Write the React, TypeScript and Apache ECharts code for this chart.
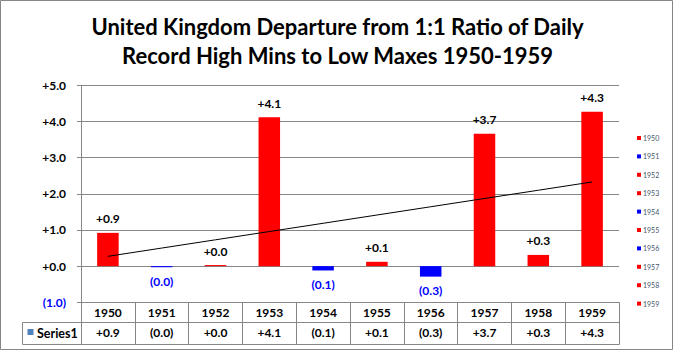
import React, { useEffect, useRef } from "react";
import * as echarts from "echarts";

const years = ["1950", "1951", "1952", "1953", "1954", "1955", "1956", "1957", "1958", "1959"];
const values = [0.92, -0.03, 0.03, 4.12, -0.12, 0.12, -0.29, 3.66, 0.31, 4.27];
const yMin = -1;
const yMax = 5;
const yInterval = 1;
const seriesName = "Series1";
const titleText = "United Kingdom Departure from 1:1 Ratio of Daily\nRecord High Mins to Low Maxes 1950-1959";

const POS = "#ff0000";
const NEG = "#0000ff";
const GRID = "#868686";
const FONT = "Lato, 'Noto Sans', sans-serif";

function fmt(v: number): string {
  return v >= 0 ? "+" + v.toFixed(1) : "(" + Math.abs(v).toFixed(1) + ")";
}

function trend(vals: number[]): number[] {
  const n = vals.length;
  const mx = (n - 1) / 2;
  const my = vals.reduce((a, b) => a + b, 0) / n;
  let sxy = 0;
  let sxx = 0;
  vals.forEach((v, i) => {
    sxy += (i - mx) * (v - my);
    sxx += (i - mx) * (i - mx);
  });
  const slope = sxy / sxx;
  const icpt = my - slope * mx;
  return vals.map((_, i) => icpt + slope * i);
}

export default function App() {
  const ref = useRef<HTMLDivElement>(null);
  useEffect(() => {
    if (!ref.current) return;
    const chart = echarts.init(ref.current, undefined, { renderer: "svg" });
    const colorOf = (v: number) => (v >= 0 ? POS : NEG);
    const option: any = {
      animation: false,
      backgroundColor: "#ffffff",
      textStyle: { fontFamily: FONT },
      title: {
        text: titleText,
        left: "center",
        top: 7,
        textStyle: { fontSize: 22, fontWeight: "bold", color: "#000", lineHeight: 29, fontFamily: FONT },
      },
      legend: {
        orient: "vertical",
        left: 637,
        top: 134,
        padding: 0,
        icon: "rect",
        itemWidth: 4,
        itemHeight: 4,
        itemGap: 10.4,
        textStyle: { fontSize: 7, lineHeight: 8, color: "#44546a", padding: [0, 0, 0, -3], fontFamily: FONT },
        data: years.map((y, i) => ({ name: y, itemStyle: { color: colorOf(values[i]) } })),
      },
      grid: { left: 81, right: 56, top: 85.3, bottom: 48.7, containLabel: false, outerBoundsMode: "none" },
      xAxis: [
        {
          type: "category",
          data: years,
          position: "bottom",
          axisLine: { onZero: false, lineStyle: { color: GRID, width: 1 } },
          axisTick: { show: true, alignWithLabel: false, length: 42, lineStyle: { color: GRID } },
          axisLabel: { margin: 4, fontSize: 12, fontWeight: "bold", color: "#000", fontFamily: FONT, interval: 0 },
        },
        {
          type: "category",
          data: years,
          position: "bottom",
          offset: 20,
          axisLine: { onZero: false, lineStyle: { color: GRID, width: 1 } },
          axisTick: { show: false },
          axisLabel: {
            margin: 4,
            fontSize: 12,
            fontWeight: "bold",
            color: "#000",
            fontFamily: FONT,
            interval: 0,
            formatter: (_: string, idx: number) => fmt(values[idx]),
          },
        },
      ],
      yAxis: {
        type: "value",
        min: yMin,
        max: yMax,
        interval: yInterval,
        axisLine: { show: true, lineStyle: { color: GRID } },
        axisTick: { show: true, length: 4, lineStyle: { color: GRID } },
        splitLine: { show: true, lineStyle: { color: GRID, width: 1 } },
        axisLabel: {
          margin: 15,
          fontSize: 12,
          fontWeight: "bold",
          fontFamily: FONT,
          formatter: (v: number) => fmt(v),
          color: (v: any) => (Number(v) < 0 ? NEG : "#000"),
        },
      },
      series: [
        {
          name: seriesName,
          type: "bar",
          xAxisIndex: 0,
          barWidth: "40%",
          data: values.map((v) => ({
            value: v,
            itemStyle: { color: colorOf(v) },
            label: {
              show: true,
              position: v >= 0 ? "top" : "bottom",
              distance: 8,
              formatter: () => fmt(v),
              color: v >= 0 ? "#000" : NEG,
              fontSize: 12,
              fontWeight: "bold",
              fontFamily: FONT,
            },
          })),
        },
        {
          name: "trend",
          type: "line",
          xAxisIndex: 0,
          data: trend(values),
          symbol: "none",
          lineStyle: { color: "#000", width: 1 },
          z: 5,
          silent: true,
        },
        ...years.map((y, i) => ({
          name: y,
          type: "line",
          data: [],
          itemStyle: { color: colorOf(values[i]) },
        })),
      ],
      graphic: [
        {
          type: "rect",
          shape: { x: 0.5, y: 0.5, width: 672, height: 349 },
          style: { fill: "none", stroke: GRID, lineWidth: 1 },
          silent: true,
        },
        { type: "line", shape: { x1: 22.5, y1: 322.5, x2: 81, y2: 322.5 }, style: { stroke: GRID, lineWidth: 1 } },
        { type: "line", shape: { x1: 22.5, y1: 344.5, x2: 619.5, y2: 344.5 }, style: { stroke: GRID, lineWidth: 1 } },
        { type: "line", shape: { x1: 22.5, y1: 322.5, x2: 22.5, y2: 344.5 }, style: { stroke: GRID, lineWidth: 1 } },
        { type: "rect", shape: { x: 27.5, y: 329, width: 6, height: 6 }, style: { fill: "#4f81bd" } },
        {
          type: "text",
          x: 37,
          y: 333.5,
          style: {
            text: seriesName,
            fontSize: 12.5,
            fontWeight: "bold",
            fontFamily: FONT,
            fill: "#000",
            verticalAlign: "middle",
          },
        },
      ],
    };
    chart.setOption(option);
    return () => chart.dispose();
  }, []);
  return <div ref={ref} style={{ position: "fixed", left: 0, top: 0, width: 675, height: 351 }} />;
}
